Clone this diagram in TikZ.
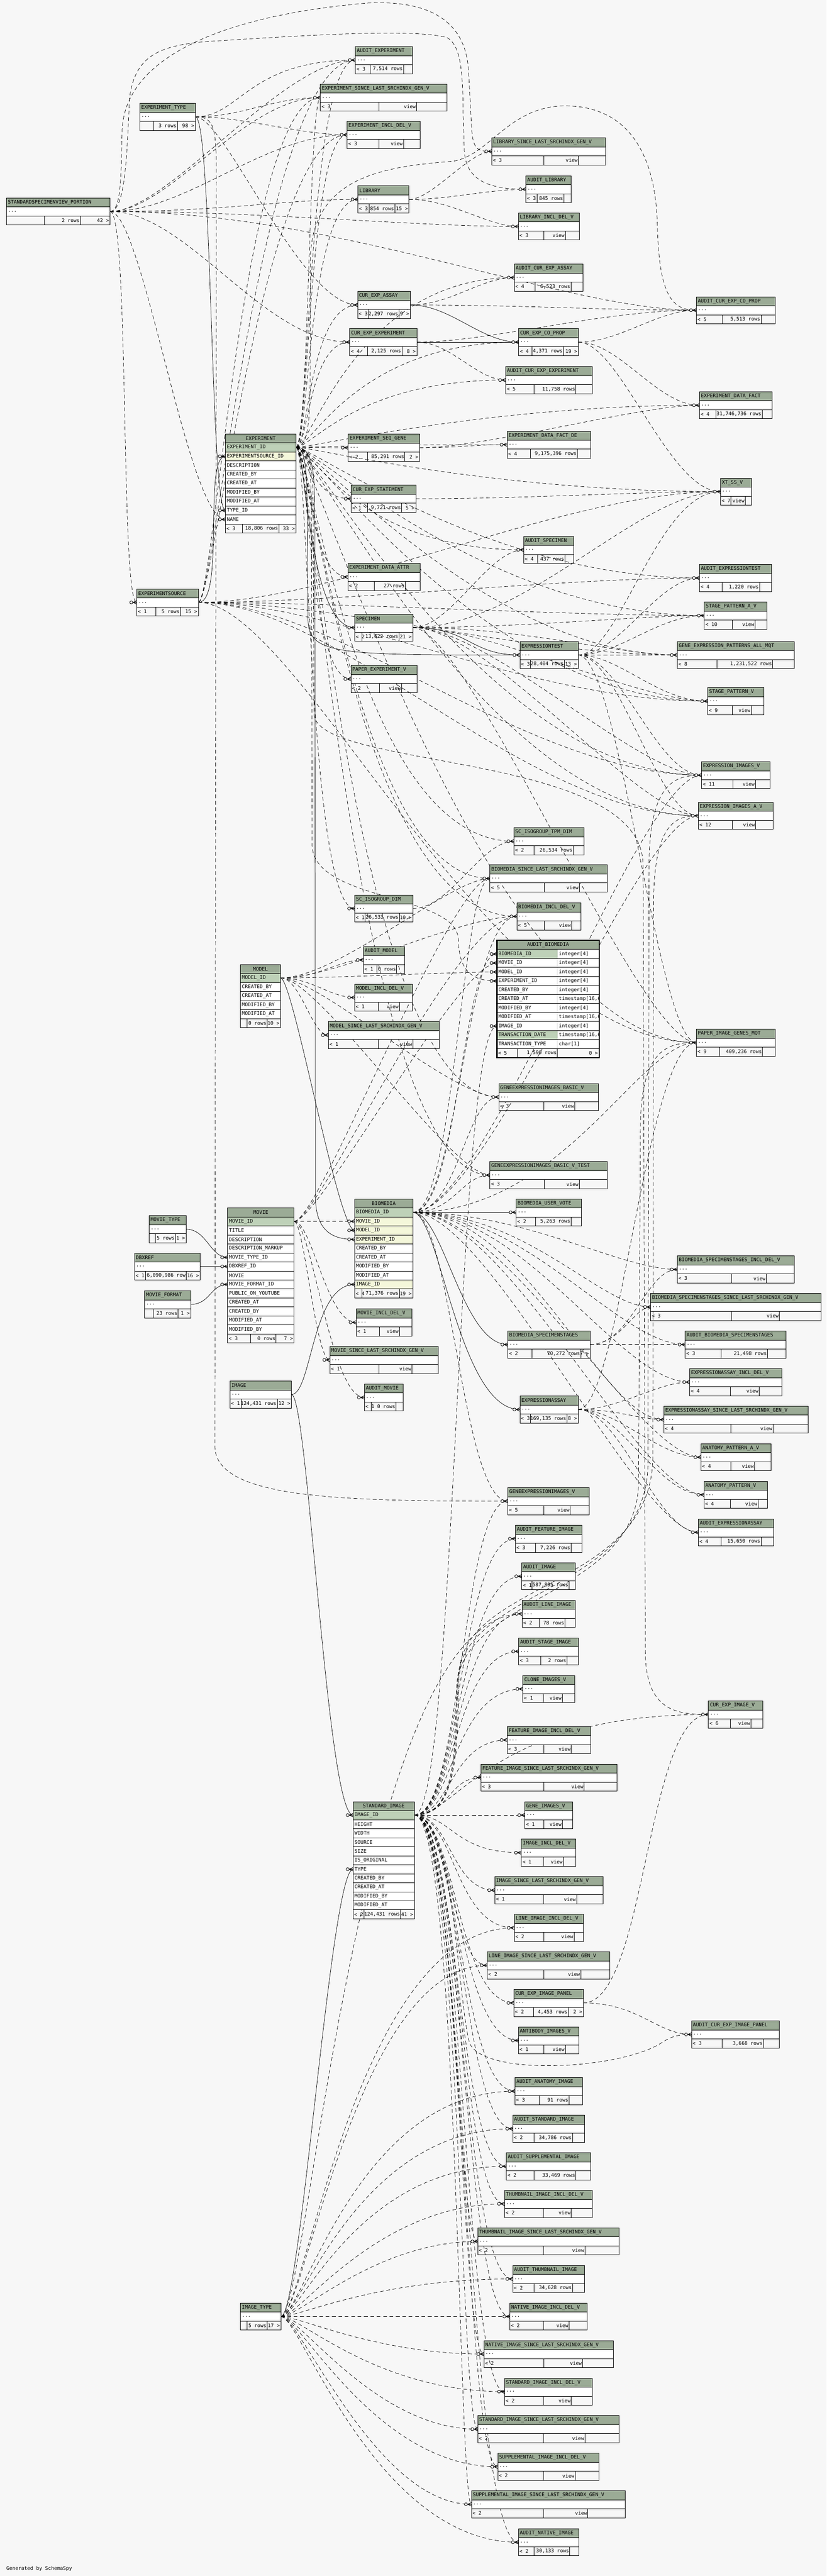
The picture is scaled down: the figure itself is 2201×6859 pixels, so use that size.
\documentclass[tikz,border=0pt]{standalone}
\usepackage{fontspec}
\setmonofont{DejaVu Sans Mono}

\definecolor{hdrc}{HTML}{9BAB96}
\definecolor{pkc}{HTML}{BED1B8}
\definecolor{fkc}{HTML}{F4F7DA}
\definecolor{bgc}{HTML}{F7F7F7}

\pgfdeclarelayer{bg}
\pgfdeclarelayer{edges}
\pgfsetlayers{bg,edges,main}

\tikzset{
  ttext/.style={font=\fontsize{6.6}{7.5}\selectfont\ttfamily,inner sep=0pt,outer sep=0pt},
  tline/.style={line width=0.5pt},
  tbody/.style={draw,line width=0.5pt,fill=white,minimum height=12pt,inner sep=0pt,outer sep=0pt},
  imp/.style={line width=0.5pt,dash pattern=on 5pt off 3.5pt},
  fkl/.style={line width=0.5pt},
  crow/.pic={
    \draw[line width=0.7pt] (-10,0) -- (0,-4.5) (-10,0) -- (0,4.5) (-10,0) -- (0,0);
    \draw[line width=0.6pt,fill=bgc] (-14.5,0) circle[radius=4];
  }
}

% compact table: name, x, y, width, title, parents, rows, children, dividers
\newcommand{\ctab}[9]{%
  \pgfmathsetlengthmacro{\tw}{(#4-8)*0.5pt}%
  \fill[hdrc] (#2,#3) rectangle ++(#4,24);
  \node[ttext,anchor=west,text width=\tw,align=left] at (#2+4,#3+12) {#5};
  \node[tbody,minimum width=#4*0.5pt,anchor=north west] (#1) at (#2,#3+24) {};
  \node[ttext,anchor=west] at (#2+4,#3+36) {...};
  \draw[tline] (#2,#3) rectangle ++(#4,72) (#2,#3+48) -- ++(#4,0);
  \foreach \dv in {#9} {\draw[tline] (\dv,#3+48) -- (\dv,#3+72); \xdef\dlast{\dv}}
  \node[ttext,anchor=west] at (#2+3,#3+60) {#6};
  \node[ttext,anchor=east] at (\dlast-2,#3+60) {#7};
  \node[ttext,anchor=east] at (#2+#4-3,#3+60) {#8};
}
% table with columns: name, x, y, width, title, rows
\newcommand{\ftab}[6]{%
  \fill[hdrc] (#2,#3) rectangle ++(#4,24);
  \node[ttext] at (#2+#4/2,#3+12) {#5};
  \foreach \rn/\rc [count=\ri] in {#6} {
    \node[tbody,fill=\rc,minimum width=#4*0.5pt,anchor=north west] (#1\ri) at (#2,#3+24*\ri) {};
    \node[ttext,anchor=west] at (#2+4,#3+24*\ri+12) {\rn};
  }
  \draw[tline] (#2,#3) rectangle ++(#4,24);
}
% footer: x, y, width, parents, rows, children, dividers
\newcommand{\tfoot}[7]{%
  \draw[tline] (#1,#2) rectangle ++(#3,24);
  \foreach \dv in {#7} {\draw[tline] (\dv,#2) -- ++(0,24); \xdef\dlast{\dv}}
  \node[ttext,anchor=west] at (#1+3,#2+12) {#4};
  \node[ttext,anchor=east] at (\dlast-2,#2+12) {#5};
  \node[ttext,anchor=east] at (#1+#3-3,#2+12) {#6};
}
% link: style, from, to, control x at start, control x at end
\newcommand{\lnk}[5][imp]{\draw[#1] (#2) .. controls (#2 -| #4,0) and (#3 -| #5,0) .. (#3);}

\begin{document}
\catcode`\_=12
\begin{tikzpicture}[x=0.5pt,y=0.5pt,yscale=-1,xscale=1]
\useasboundingbox (0,0) rectangle (2201,6859);
\begin{pgfonlayer}{bg}
\fill[bgc] (0,0) rectangle (2201,6859);
\end{pgfonlayer}

% Tables with columns
\ftab{experiment}{600}{1155}{188}{EXPERIMENT}{EXPERIMENT_ID/pkc,EXPERIMENTSOURCE_ID/fkc,DESCRIPTION/white,CREATED_BY/white,CREATED_AT/white,MODIFIED_BY/white,MODIFIED_AT/white,TYPE_ID/white,NAME/white}
\tfoot{600}{1395}{188}{< 3}{18,806 rows}{33 >}{645,742}
\ftab{model}{640}{2568}{107}{MODEL}{MODEL_ID/pkc,CREATED_BY/white,CREATED_AT/white,MODIFIED_BY/white,MODIFIED_AT/white}
\tfoot{640}{2712}{107}{}{0 rows}{10 >}{658,711}
\ftab{movie}{606}{3216}{177}{MOVIE}{MOVIE_ID/pkc,TITLE/white,DESCRIPTION/white,DESCRIPTION_MARKUP/white,MOVIE_TYPE_ID/white,DBXREF_ID/white,MOVIE/white,MOVIE_FORMAT_ID/white,PUBLIC_ON_YOUTUBE/white,CREATED_AT/white,CREATED_BY/white,MODIFIED_AT/white,MODIFIED_BY/white}
\tfoot{606}{3552}{177}{< 3}{0 rows}{7 >}{667,735}
\ftab{biomedia}{944}{3192}{155}{BIOMEDIA}{BIOMEDIA_ID/pkc,MOVIE_ID/fkc,MODEL_ID/fkc,EXPERIMENT_ID/fkc,CREATED_BY/white,CREATED_AT/white,MODIFIED_BY/white,MODIFIED_AT/white,IMAGE_ID/fkc}
\tfoot{944}{3432}{155}{< 4}{71,376 rows}{19 >}{963,1063}
\ftab{standardimage}{940}{4797}{163}{STANDARD_IMAGE}{IMAGE_ID/pkc,HEIGHT/white,WIDTH/white,SOURCE/white,SIZE/white,IS_ORIGINAL/white,TYPE/white,CREATED_BY/white,CREATED_AT/white,MODIFIED_BY/white,MODIFIED_AT/white}
\tfoot{940}{5085}{163}{< 2}{124,431 rows}{41 >}{969,1067}
\ftab{auditbiomedia}{1323}{2504}{272}{AUDIT_BIOMEDIA}{BIOMEDIA_ID/pkc,MOVIE_ID/white,MODEL_ID/white,EXPERIMENT_ID/white,CREATED_BY/white,CREATED_AT/white,MODIFIED_BY/white,MODIFIED_AT/white,IMAGE_ID/white,TRANSACTION_DATE/pkc,TRANSACTION_TYPE/white}
\begin{scope}
\clip (1484,2528) rectangle (1595,2792);
\foreach \ty [count=\ri] in {integer[4],integer[4],integer[4],integer[4],integer[4],{timestamp[16,6]},integer[4],{timestamp[16,6]},integer[4],{timestamp[16,6]},char[1]} {
  \draw[tline,fill=white] (1484,2504+24*\ri) rectangle ++(111,24);
  \node[ttext,anchor=west] at (1488,2516+24*\ri) {\ty};
}
\end{scope}
\tfoot{1323}{2792}{272}{< 5}{1,590 rows}{0 >}{1378,1484}
\draw[line width=1.5pt] (1323,2504) rectangle (1595,2816);

% Compact tables
\ctab{ssp}{17}{527}{276}{STANDARDSPECIMENVIEW_PORTION}{}{2 rows}{42 >}{118,214}
\ctab{exptype}{372}{275}{148}{EXPERIMENT_TYPE}{}{3 rows}{98 >}{409,472}
\ctab{auditexp}{946}{124}{152}{AUDIT_EXPERIMENT}{< 3}{7,514 rows}{}{986,1074}
\ctab{expsince}{853}{224}{337}{EXPERIMENT_SINCE_LAST_SRCHINDX_GEN_V}{< 3}{view}{}{1009,1109}
\ctab{expincl}{924}{323}{195}{EXPERIMENT_INCL_DEL_V}{< 3}{view}{}{1009,1074}
\ctab{libsince}{1309}{367}{304}{LIBRARY_SINCE_LAST_SRCHINDX_GEN_V}{< 3}{view}{}{1448,1540}
\ctab{auditlib}{1400}{468}{120}{AUDIT_LIBRARY}{< 3}{845 rows}{}{1430,1501}
\ctab{library}{953}{495}{136}{\centering LIBRARY}{< 3}{854 rows}{15 >}{983,1051}
\ctab{libincl}{1380}{567}{163}{LIBRARY_INCL_DEL_V}{< 3}{view}{}{1448,1505}
\ctab{auditcea}{1369}{703}{183}{AUDIT_CUR_EXP_ASSAY}{< 4}{6,523 rows}{}{1425,1520}
\ctab{cea}{952}{776}{140}{CUR_EXP_ASSAY}{< 3}{2,297 rows}{9 >}{981,1062}
\ctab{auditcecp}{1854}{790}{209}{AUDIT_CUR_EXP_CO_PROP}{< 5}{5,513 rows}{}{1924,2026}
\ctab{cee}{931}{875}{179}{CUR_EXP_EXPERIMENT}{< 4}{2,125 rows}{8 >}{979,1070}
\ctab{cecp}{1381}{875}{159}{CUR_EXP_CO_PROP}{< 4}{4,371 rows}{19 >}{1416,1500}
\ctab{auditcee}{1346}{976}{230}{AUDIT_CUR_EXP_EXPERIMENT}{< 5}{11,758 rows}{}{1421,1533}
\ctab{edf}{1862}{1043}{193}{EXPERIMENT_DATA_FACT}{< 4}{31,746,736 rows}{}{1906,2029}
\ctab{seqgene}{927}{1156}{190}{EXPERIMENT_SEQ_GENE}{< 2}{85,291 rows}{2 >}{978,1078}
\ctab{edfde}{1350}{1148}{222}{EXPERIMENT_DATA_FACT_DE}{< 4}{9,175,396 rows}{}{1412,1537}
\ctab{xtss}{1918}{1273}{83}{XT_SS_V}{< 7}{view}{}{1946,1984}
\ctab{cestmt}{935}{1292}{172}{CUR_EXP_STATEMENT}{< 1}{9,721 rows}{5 >}{979,1069}
\ctab{auditspec}{1394}{1428}{133}{AUDIT_SPECIMEN}{< 4}{437 rows}{}{1431,1504}
\ctab{edattr}{926}{1500}{192}{EXPERIMENT_DATA_ATTR}{< 2}{27 rows}{}{997,1079}
\ctab{auditet}{1862}{1503}{192}{AUDIT_EXPRESSIONTEST}{< 4}{1,220 rows}{}{1923,2022}
\ctab{spav}{1875}{1603}{167}{STAGE_PATTERN_A_V}{< 10}{view}{}{1950,2010}
\ctab{specimen}{944}{1635}{155}{\centering SPECIMEN}{< 2}{13,622 rows}{21 >}{963,1062}
\ctab{exptest}{1384}{1708}{155}{\centering EXPRESSIONTEST}{< 3}{28,404 rows}{13 >}{1412,1502}
\ctab{gepam}{1803}{1708}{311}{GENE_EXPRESSION_PATTERNS_ALL_MQT}{< 8}{1,231,522 rows}{}{1909,2057}
\ctab{paperexp}{934}{1772}{176}{PAPER_EXPERIMENT_V}{< 2}{view}{}{1010,1069}
\ctab{spv}{1884}{1831}{150}{STAGE_PATTERN_V}{< 9}{view}{}{1950,2000}
\ctab{eiv}{1868}{2028}{182}{EXPRESSION_IMAGES_V}{< 11}{view}{}{1951,2011}
\ctab{eiav}{1859}{2136}{199}{EXPRESSION_IMAGES_A_V}{< 12}{view}{}{1950,2012}
\ctab{sctpm}{1368}{2204}{187}{SC_ISOGROUP_TPM_DIM}{< 2}{26,534 rows}{}{1422,1526}
\ctab{biosince}{1304}{2303}{313}{BIOMEDIA_SINCE_LAST_SRCHINDX_GEN_V}{< 5}{view}{}{1449,1542}
\ctab{scdim}{944}{2383}{155}{SC_ISOGROUP_DIM}{< 1}{26,533 rows}{10 >}{972,1063}
\ctab{bioincl}{1376}{2404}{171}{BIOMEDIA_INCL_DEL_V}{< 5}{view}{}{1449,1522}
\ctab{auditmodel}{967}{2520}{110}{AUDIT_MODEL}{< 1}{0 rows}{}{1003,1056}
\ctab{modelincl}{944}{2620}{154}{MODEL_INCL_DEL_V}{< 1}{view}{}{1008,1063}
\ctab{modelsince}{874}{2720}{295}{MODEL_SINCE_LAST_SRCHINDX_GEN_V}{< 1}{view}{}{1008,1099}
\ctab{pigm}{1854}{2740}{209}{PAPER_IMAGE_GENES_MQT}{< 9}{409,236 rows}{}{1915,2030}
\ctab{gebv}{1328}{2885}{265}{GENEEXPRESSIONIMAGES_BASIC_V}{< 3}{view}{}{1448,1530}
\ctab{gebvt}{1304}{3093}{313}{GENEEXPRESSIONIMAGES_BASIC_V_TEST}{< 3}{view}{}{1449,1542}
\ctab{biovote}{1374}{3192}{174}{BIOMEDIA_USER_VOTE}{< 2}{5,263 rows}{}{1426,1520}
\ctab{bssincl}{1803}{3344}{312}{BIOMEDIA_SPECIMENSTAGES_INCL_DEL_V}{< 3}{view}{}{1947,2040}
\ctab{bsssince}{1732}{3444}{454}{BIOMEDIA_SPECIMENSTAGES_SINCE_LAST_SRCHINDX_GEN_V}{< 3}{view}{}{1947,2075}
\ctab{movieincl}{948}{3485}{148}{MOVIE_INCL_DEL_V}{< 1}{view}{}{1010,1063}
\ctab{bss}{1352}{3544}{219}{BIOMEDIA_SPECIMENSTAGES}{< 2}{70,272 rows}{7 >}{1416,1546}
\ctab{auditbss}{1824}{3544}{269}{AUDIT_BIOMEDIA_SPECIMENSTAGES}{< 3}{21,498 rows}{}{1919,2043}
\ctab{moviesince}{878}{3585}{288}{MOVIE_SINCE_LAST_SRCHINDX_GEN_V}{< 1}{view}{}{1009,1097}
\ctab{eaincl}{1836}{3644}{245}{EXPRESSIONASSAY_INCL_DEL_V}{< 4}{view}{}{1945,2021}
\ctab{auditmovie}{970}{3685}{103}{AUDIT_MOVIE}{< 1}{0 rows}{}{988,1054}
\ctab{exassay}{1384}{3717}{155}{EXPRESSIONASSAY}{< 3}{169,135 rows}{8 >}{1412,1509}
\ctab{easince}{1767}{3744}{384}{EXPRESSIONASSAY_SINCE_LAST_SRCHINDX_GEN_V}{< 4}{view}{}{1946,2058}
\ctab{apav}{1866}{3844}{187}{ANATOMY_PATTERN_A_V}{< 4}{view}{}{1946,2009}
\ctab{apv}{1874}{3944}{169}{ANATOMY_PATTERN_V}{< 4}{view}{}{1945,2018}
\ctab{geiv}{1352}{3961}{216}{GENEEXPRESSIONIMAGES_V}{< 5}{view}{}{1448,1518}
\ctab{auditea}{1859}{4044}{200}{AUDIT_EXPRESSIONASSAY}{< 4}{15,650 rows}{}{1919,2026}
\ctab{auditfi}{1372}{4061}{177}{AUDIT_FEATURE_IMAGE}{< 3}{7,226 rows}{}{1426,1520}
\ctab{auditimage}{1389}{4161}{143}{\centering AUDIT_IMAGE}{< 1}{587,895 rows}{}{1416,1515}
\ctab{auditli}{1390}{4261}{141}{AUDIT_LINE_IMAGE}{< 2}{78 rows}{}{1435,1504}
\ctab{auditsi}{1381}{4361}{159}{AUDIT_STAGE_IMAGE}{< 3}{2 rows}{}{1439,1509}
\ctab{cloneiv}{1392}{4461}{138}{CLONE_IMAGES_V}{< 1}{view}{}{1447,1497}
\ctab{ceiv}{1886}{4529}{145}{CUR_EXP_IMAGE_V}{< 6}{view}{}{1945,1999}
\ctab{fiincl}{1350}{4597}{222}{FEATURE_IMAGE_INCL_DEL_V}{< 3}{view}{}{1448,1521}
\ctab{fisince}{1280}{4697}{363}{FEATURE_IMAGE_SINCE_LAST_SRCHINDX_GEN_V}{< 3}{view}{}{1448,1555}
\ctab{geneiv}{1397}{4797}{128}{GENE_IMAGES_V}{< 1}{view}{}{1448,1497}
\ctab{imageincl}{1388}{4897}{145}{IMAGE_INCL_DEL_V}{< 1}{view}{}{1447,1500}
\ctab{imagesince}{1317}{4997}{288}{IMAGE_SINCE_LAST_SRCHINDX_GEN_V}{< 1}{view}{}{1447,1535}
\ctab{liincl}{1369}{5097}{184}{LINE_IMAGE_INCL_DEL_V}{< 2}{view}{}{1448,1528}
\ctab{lisince}{1297}{5197}{327}{LINE_IMAGE_SINCE_LAST_SRCHINDX_GEN_V}{< 2}{view}{}{1448,1546}
\ctab{ceip}{1368}{5297}{185}{CUR_EXP_IMAGE_PANEL}{< 2}{4,453 rows}{2 >}{1420,1513}
\ctab{auditceip}{1841}{5381}{234}{AUDIT_CUR_EXP_IMAGE_PANEL}{< 3}{3,668 rows}{}{1923,2032}
\ctab{antibody}{1380}{5397}{161}{ANTIBODY_IMAGES_V}{< 1}{view}{}{1448,1505}
\ctab{auditai}{1371}{5532}{180}{AUDIT_ANATOMY_IMAGE}{< 3}{91 rows}{}{1436,1515}
\ctab{auditstdi}{1365}{5632}{191}{AUDIT_STANDARD_IMAGE}{< 2}{34,786 rows}{}{1421,1524}
\ctab{auditsupi}{1348}{5732}{225}{AUDIT_SUPPLEMENTAL_IMAGE}{< 2}{33,469 rows}{}{1421,1533}
\ctab{thumbincl}{1343}{5832}{234}{THUMBNAIL_IMAGE_INCL_DEL_V}{< 2}{view}{}{1447,1521}
\ctab{thumbsince}{1272}{5932}{376}{THUMBNAIL_IMAGE_SINCE_LAST_SRCHINDX_GEN_V}{< 2}{view}{}{1447,1557}
\ctab{auditthumb}{1365}{6032}{191}{AUDIT_THUMBNAIL_IMAGE}{< 2}{34,628 rows}{}{1421,1524}
\ctab{nativeincl}{1357}{6132}{206}{NATIVE_IMAGE_INCL_DEL_V}{< 2}{view}{}{1447,1515}
\ctab{nativesince}{1288}{6232}{345}{NATIVE_IMAGE_SINCE_LAST_SRCHINDX_GEN_V}{< 2}{view}{}{1448,1551}
\ctab{stdincl}{1343}{6332}{234}{STANDARD_IMAGE_INCL_DEL_V}{< 2}{view}{}{1447,1521}
\ctab{stdsince}{1272}{6432}{376}{STANDARD_IMAGE_SINCE_LAST_SRCHINDX_GEN_V}{< 2}{view}{}{1447,1557}
\ctab{supincl}{1325}{6532}{270}{SUPPLEMENTAL_IMAGE_INCL_DEL_V}{< 2}{view}{}{1447,1531}
\ctab{supsince}{1255}{6632}{410}{SUPPLEMENTAL_IMAGE_SINCE_LAST_SRCHINDX_GEN_V}{< 2}{view}{}{1447,1565}
\ctab{auditni}{1380}{6733}{161}{AUDIT_NATIVE_IMAGE}{< 2}{30,133 rows}{}{1421,1517}
\ctab{expsource}{364}{1568}{164}{EXPERIMENTSOURCE}{< 1}{5 rows}{15 >}{415,480}
\ctab{movietype}{397}{3237}{99}{MOVIE_TYPE}{}{5 rows}{1 >}{414,467}
\ctab{dbxref}{358}{3336}{175}{\centering DBXREF}{< 1}{6,090,986 row}{16 >}{387,496}
\ctab{movieformat}{385}{3437}{123}{MOVIE_FORMAT}{}{23 rows}{1 >}{408,474}
\ctab{image}{612}{3677}{164}{\centering IMAGE}{< 1}{124,431 rows}{12 >}{642,738}
\ctab{imagetype}{640}{6132}{108}{IMAGE_TYPE}{}{5 rows}{17 >}{658,711}

% Text Node
\node[ttext,anchor=west] (gen) at (17,6840) {Generated by SchemaSpy};

% Links
\begin{pgfonlayer}{edges}
% from STANDARDSPECIMENVIEW_PORTION
\foreach \ch/\p/\q in {expsource/345/320,experiment9/380/500,library/600/750,libincl/700/1100,auditexp/450/750,expsince/450/650,expincl/500/700,cee/500/700,auditcecp/900/1500} {\lnk{ssp.east}{\ch.west}{\p}{\q}}
\draw[imp] (ssp.east) .. controls (325,563) and (322,450) .. (325,350) .. controls (330,150) and (600,40) .. (980,8) .. controls (1150,0) and (1245,60) .. (1248,200) -- (1255,330) .. controls (1258,400) and (1270,403) .. (libsince.west);
\draw[imp] (ssp.east) .. controls (335,563) and (338,400) .. (345,260) .. controls (360,150) and (420,120) .. (560,110) .. controls (800,95) and (1100,75) .. (1190,100) .. controls (1225,120) and (1232,180) .. (1233,300) -- (1236,400) .. controls (1240,480) and (1300,504) .. (auditlib.west);
% from EXPERIMENT_TYPE
\lnk[fkl]{exptype.east}{experiment8.west}{565}{560}
\foreach \ch/\p/\q in {auditexp/640/660,expsince/650/720,expincl/650/800,cea/600/800} {\lnk{exptype.east}{\ch.west}{\p}{\q}}
\draw[imp] (exptype.east) .. controls (572,311) and (576,340) .. (576,480) -- (572,3850) .. controls (572,3990) and (900,3997) .. (geiv.west);
% from EXPERIMENTSOURCE
\lnk[fkl]{expsource.east}{experiment2.west}{600}{540}
\foreach \ch/\p/\q in {auditexp/570/700,expsince/570/650,expincl/570/700,auditet/900/1500,spav/900/1500,spv/900/1400,eiv/900/1400,eiav/900/1400,gepam/900/1400,pigm/800/1300,xtss/900/1500} {\lnk{expsource.east}{\ch.west}{\p}{\q}}
% from EXPERIMENT
\lnk[fkl]{experiment1.east}{specimen.west}{815}{820}
\draw[fkl] (experiment1.east) .. controls (815,1191) and (818,1260) .. (818,1400) -- (820,1650) .. controls (822,1744) and (900,1744) .. (exptest.west);
\draw[fkl] (experiment1.east) .. controls (836,1191) and (838,1260) .. (838,1400) -- (840,3190) .. controls (841,3290) and (900,3300) .. (biomedia4.west);
\draw[imp] (experiment1.east) .. controls (828,1191) and (829,1260) .. (829,1400) -- (831,2250) .. controls (833,2400) and (1215,2380) .. (1220,2500) .. controls (1222,2590) and (1260,2612) .. (auditbiomedia4.west);
\foreach \ch in {auditexp,expsince,expincl,library,cea,cee,seqgene,cestmt,edattr,paperexp,scdim} {\lnk{experiment1.east}{\ch.west}{822}{822}}
\foreach \ch in {auditcea,cecp,auditcee,edfde,auditspec,sctpm,biosince,bioincl,gebv,gebvt} {\lnk{experiment1.east}{\ch.west}{830}{950}}
\foreach \ch in {edf,xtss,auditet,spav,gepam,spv,eiv,eiav,pigm} {\lnk{experiment1.east}{\ch.west}{835}{1300}}
\draw[imp] (experiment1.east) .. controls (825,1191) and (826,1100) .. (826,950) -- (826,700) .. controls (826,480) and (1000,445) .. (1200,430) .. controls (1300,420) and (1350,285) .. (1500,282) .. controls (1650,280) and (1745,380) .. (1750,600) .. controls (1755,790) and (1790,826) .. (auditcecp.west);
\draw[imp] (experiment1.east) .. controls (832,1191) and (834,1260) .. (834,1400) -- (836,1900) .. controls (838,2050) and (1705,2000) .. (1712,2300) -- (1718,4400) .. controls (1720,4555) and (1800,4565) .. (ceiv.west);
% from LIBRARY and the CUR_EXP tables
\foreach \ch/\p/\q in {libsince/1150/1250,auditlib/1200/1300,libincl/1200/1300} {\lnk{library.east}{\ch.west}{\p}{\q}}
\lnk[fkl]{cea.east}{cecp.west}{1200}{1280}
\lnk{cea.east}{auditcea.west}{1200}{1280}
\lnk{cea.east}{auditcecp.west}{1400}{1600}
\lnk[fkl]{cee.east}{cecp.west}{1250}{1250}
\lnk{cee.east}{auditcee.west}{1200}{1270}
\lnk{cee.east}{auditcecp.west}{1300}{1600}
\foreach \ch/\p/\q in {auditcecp/1650/1750,edf/1650/1750,xtss/1650/1780} {\lnk{cecp.east}{\ch.west}{\p}{\q}}
\lnk{seqgene.east}{edfde.west}{1230}{1250}
\lnk{seqgene.east}{edf.west}{1300}{1700}
\lnk{cestmt.east}{xtss.west}{1400}{1700}
% from SPECIMEN and EXPRESSIONTEST
\lnk[fkl]{specimen.east}{exptest.west}{1250}{1250}
\foreach \ch/\p/\q in {auditspec/1200/1300,spav/1400/1700,spv/1300/1700,eiv/1300/1700,eiav/1300/1700,xtss/1400/1700,gepam/1400/1650,pigm/1250/1700} {\lnk{specimen.east}{\ch.west}{\p}{\q}}
\foreach \ch in {auditet,spav,gepam,spv,eiv,eiav,xtss,pigm} {\lnk{exptest.east}{\ch.west}{1650}{1750}}
\lnk{scdim.east}{sctpm.west}{1200}{1280}
% from MODEL
\lnk[fkl]{model1.east}{biomedia3.west}{780}{900}
\foreach \ch/\p/\q in {auditbiomedia3/900/1200,auditmodel/850/900,modelincl/830/880,modelsince/800/830,biosince/900/1200,bioincl/900/1220,gebv/850/1200,gebvt/850/1200} {\lnk{model1.east}{\ch.west}{\p}{\q}}
% from MOVIE and its parents
\foreach \ch/\p/\q in {biomedia2/850/880,auditbiomedia2/850/1220,movieincl/830/870,moviesince/810/840,auditmovie/830/880,biosince/850/1200,bioincl/850/1210} {\lnk{movie1.east}{\ch.west}{\p}{\q}}
\lnk[fkl]{movietype.east}{movie5.west}{550}{560}
\lnk[fkl]{dbxref.east}{movie6.west}{570}{570}
\lnk[fkl]{movieformat.east}{movie8.west}{560}{560}
% from IMAGE
\lnk[fkl]{image.east}{biomedia9.west}{830}{830}
\lnk[fkl]{image.east}{standardimage1.west}{820}{870}
% from BIOMEDIA
\lnk[fkl]{biomedia1.east}{biovote.west}{1200}{1250}
\lnk[fkl]{biomedia1.east}{bss.west}{1180}{1230}
\lnk[fkl]{biomedia1.east}{exassay.west}{1170}{1220}
\foreach \ch/\p/\q in {auditbiomedia1/1220/1230,biosince/1210/1230,bioincl/1220/1240,pigm/1500/1700,gebv/1220/1240,gebvt/1210/1230,bssincl/1400/1650,bsssince/1400/1600,auditbss/1400/1650,eaincl/1400/1650,easince/1400/1600,auditea/1300/1700,apav/1350/1700,apv/1350/1700,geiv/1200/1230,eiv/1300/1700,eiav/1300/1700} {\lnk{biomedia1.east}{\ch.west}{\p}{\q}}
\foreach \ch/\p/\q in {bssincl/1680/1720,bsssince/1650/1690,auditbss/1700/1700} {\lnk{bss.east}{\ch.west}{\p}{\q}}
\foreach \ch/\p/\q in {eaincl/1650/1750,easince/1650/1700,auditea/1650/1750,apav/1650/1750,apv/1650/1750,pigm/1650/1720} {\lnk{exassay.east}{\ch.west}{\p}{\q}}
% from STANDARD_IMAGE
\lnk{standardimage1.east}{auditbiomedia9.west}{1215}{1215}
\foreach \ch/\p in {geiv/1230,auditfi/1225,auditimage/1220,auditli/1215,auditsi/1210,cloneiv/1205,fiincl/1200,fisince/1195,geneiv/1200,imageincl/1205,imagesince/1200,liincl/1210,lisince/1200,ceip/1215,antibody/1220,auditai/1225,auditstdi/1230,auditsupi/1220,thumbincl/1225,thumbsince/1215,auditthumb/1230,nativeincl/1235,nativesince/1225,stdincl/1235,stdsince/1225,supincl/1235,supsince/1220,auditni/1240} {\lnk{standardimage1.east}{\ch.west}{\p}{\p}}
\lnk{standardimage1.east}{ceiv.west}{1220}{1300}
\draw[imp] (standardimage1.east) .. controls (1210,4833) and (1215,5300) .. (1250,5440) .. controls (1290,5530) and (1650,5510) .. (1760,5440) .. controls (1790,5420) and (1810,5417) .. (auditceip.west);
\draw[imp] (standardimage1.east) .. controls (1205,4833) and (1212,4700) .. (1215,4500) .. controls (1220,4250) and (1695,4250) .. (1700,3950) -- (1705,3000) .. controls (1707,2790) and (1780,2776) .. (pigm.west);
\draw[imp] (standardimage1.east) .. controls (1208,4833) and (1215,4700) .. (1218,4480) .. controls (1222,4230) and (1720,4240) .. (1725,3900) -- (1728,2300) .. controls (1730,2080) and (1800,2064) .. (eiv.west);
\draw[imp] (standardimage1.east) .. controls (1210,4833) and (1218,4700) .. (1222,4460) .. controls (1226,4210) and (1735,4230) .. (1738,3880) -- (1740,2400) .. controls (1742,2190) and (1800,2172) .. (eiav.west);
\lnk{ceip.east}{auditceip.west}{1700}{1750}
\lnk{ceip.east}{ceiv.west}{1720}{1720}
% from IMAGE_TYPE
\lnk[fkl]{imagetype.east}{standardimage7.west}{800}{880}
\foreach \ch/\p/\q in {auditli/820/950,liincl/810/950,lisince/810/950,auditai/805/950,auditstdi/800/950,auditsupi/800/950,thumbincl/800/1000,thumbsince/800/1000,auditthumb/800/1000,nativeincl/900/1000,nativesince/800/1000,stdincl/800/1000,stdsince/800/1000,supincl/800/1000,supsince/800/1000,auditni/800/1000} {\lnk{imagetype.east}{\ch.west}{\p}{\q}}
\end{pgfonlayer}

% Crow's feet
\foreach \ch in {auditexp,expsince,expincl,libsince,auditlib,library,libincl,auditcea,cea,auditcecp,cee,cecp,auditcee,edf,seqgene,edfde,xtss,cestmt,auditspec,edattr,auditet,spav,specimen,exptest,gepam,paperexp,spv,eiv,eiav,sctpm,biosince,scdim,bioincl,auditmodel,modelincl,modelsince,pigm,gebv,gebvt,biovote,bssincl,bsssince,movieincl,bss,auditbss,moviesince,eaincl,auditmovie,exassay,easince,apav,apv,geiv,auditea,auditfi,auditimage,auditli,auditsi,cloneiv,ceiv,fiincl,fisince,geneiv,imageincl,imagesince,liincl,lisince,ceip,auditceip,antibody,auditai,auditstdi,auditsupi,thumbincl,thumbsince,auditthumb,nativeincl,nativesince,stdincl,stdsince,supincl,supsince,auditni,expsource,experiment2,experiment8,experiment9,biomedia2,biomedia3,biomedia4,biomedia9,auditbiomedia1,auditbiomedia2,auditbiomedia3,auditbiomedia4,auditbiomedia9,movie5,movie6,movie8,standardimage1,standardimage7} {\pic at (\ch.west) {crow};}

\end{tikzpicture}
\end{document}
